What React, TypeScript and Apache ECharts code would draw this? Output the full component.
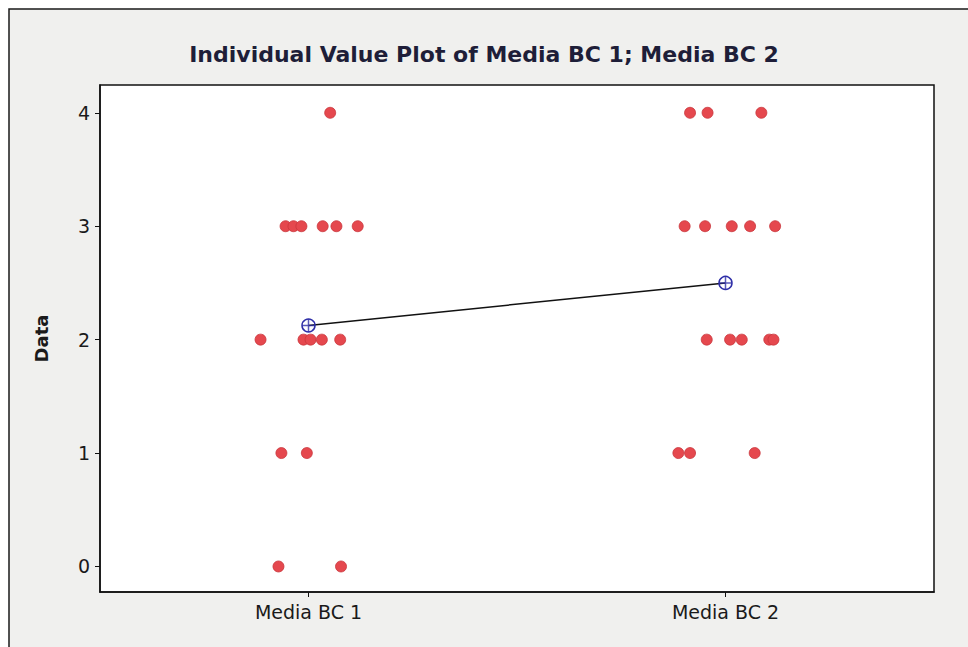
import React, { useEffect, useRef } from "react";
import * as echarts from "echarts";

const categories = ["Media BC 1", "Media BC 2"];
const yTicks = [0, 1, 2, 3, 4];

const group1Values = [4, 3, 3, 3, 3, 3, 3, 2, 2, 2, 2, 2, 1, 1, 0, 0];
const group1Jitter = [0.052, -0.055, -0.036, -0.017, 0.034, 0.067, 0.118, -0.115, -0.012, 0.005, 0.032, 0.076, -0.065, -0.004, -0.072, 0.078];

const group2Values = [4, 4, 4, 3, 3, 3, 3, 3, 2, 2, 2, 2, 2, 1, 1, 1];
const group2Jitter = [-0.085, -0.043, 0.086, -0.098, -0.049, 0.015, 0.059, 0.119, -0.045, 0.011, 0.039, 0.105, 0.115, -0.113, -0.085, 0.07];

const mean = (a: number[]) => a.reduce((s, v) => s + v, 0) / a.length;

export default function App() {
  const ref = useRef<HTMLDivElement>(null);
  useEffect(() => {
    if (!ref.current) return;
    const chart = echarts.init(ref.current, null, { renderer: "svg" });
    const pts1 = group1Values.map((v, i) => [1 + group1Jitter[i], v]);
    const pts2 = group2Values.map((v, i) => [2 + group2Jitter[i], v]);
    const means = [
      [1, mean(group1Values)],
      [2, mean(group2Values)],
    ];
    const font = "Tahoma, 'DejaVu Sans', sans-serif";
    chart.setOption({
      animation: false,
      backgroundColor: "#ffffff",
      title: {
        text: "Individual Value Plot of Media BC 1; Media BC 2",
        left: "center",
        top: 38,
        padding: [5, 5, 5, 19],
        textStyle: { fontFamily: font, fontWeight: "bold", fontSize: 22, color: "#1e1e38" },
      },
      graphic: [
        {
          type: "rect",
          z: -100,
          shape: { x: 9, y: 9, width: 1000, height: 700 },
          style: { fill: "#f0f0ee", stroke: "#1a1a1a", lineWidth: 1.5 },
        },
      ],
      grid: {
        left: 100,
        right: 34,
        top: 85,
        bottom: 55,
        show: true,
        backgroundColor: "#ffffff",
        borderColor: "#111111",
        borderWidth: 1.5,
      },
      xAxis: {
        type: "value",
        min: 0.5,
        max: 2.5,
        splitLine: { show: false },
        axisLine: { show: true, onZero: false, lineStyle: { color: "#111", width: 1.5 } },
        axisTick: { show: true, customValues: [1, 2], length: 5, lineStyle: { color: "#111" } },
        axisLabel: {
          customValues: [1, 2],
          formatter: (v: number) => categories[Math.round(v) - 1] ?? "",
          margin: 10,
          fontFamily: font,
          fontSize: 19,
          color: "#1a1a1a",
        },
      },
      yAxis: {
        type: "value",
        min: -0.225,
        max: 4.245,
        name: "Data",
        nameLocation: "middle",
        nameGap: 50,
        nameTextStyle: { fontFamily: font, fontWeight: "bold", fontSize: 18, color: "#1a1a1a" },
        splitLine: { show: false },
        axisLine: { show: true, onZero: false, lineStyle: { color: "#111", width: 1.5 } },
        axisTick: { show: true, customValues: yTicks, length: 5, lineStyle: { color: "#111" } },
        axisLabel: {
          customValues: yTicks,
          margin: 10,
          fontFamily: font,
          fontSize: 19,
          color: "#1a1a1a",
        },
      },
      series: [
        {
          type: "scatter",
          name: "Media BC 1",
          data: pts1,
          symbolSize: 11,
          itemStyle: { color: "#e5484e", borderColor: "#c9363c", borderWidth: 0.8, opacity: 1 },
        },
        {
          type: "scatter",
          name: "Media BC 2",
          data: pts2,
          symbolSize: 11,
          itemStyle: { color: "#e5484e", borderColor: "#c9363c", borderWidth: 0.8, opacity: 1 },
        },
        {
          type: "line",
          name: "Mean",
          data: means,
          symbol: "circle",
          symbolSize: 13,
          lineStyle: { color: "#111111", width: 1.5 },
          itemStyle: { color: "rgba(255,255,255,0)", borderColor: "#2f2fa8", borderWidth: 1.5 },
          z: 5,
        },
        {
          type: "scatter",
          name: "MeanCross",
          data: means,
          symbol: "path://M10,0L10,20M0,10L20,10",
          symbolSize: 13,
          itemStyle: { color: "none", borderColor: "#2f2fa8", borderWidth: 1.5 },
          z: 6,
        },
      ],
    });
    return () => chart.dispose();
  }, []);
  return (
    <div
      ref={ref}
      style={{ position: "fixed", left: 0, top: 0, width: 968, height: 647 }}
    />
  );
}
